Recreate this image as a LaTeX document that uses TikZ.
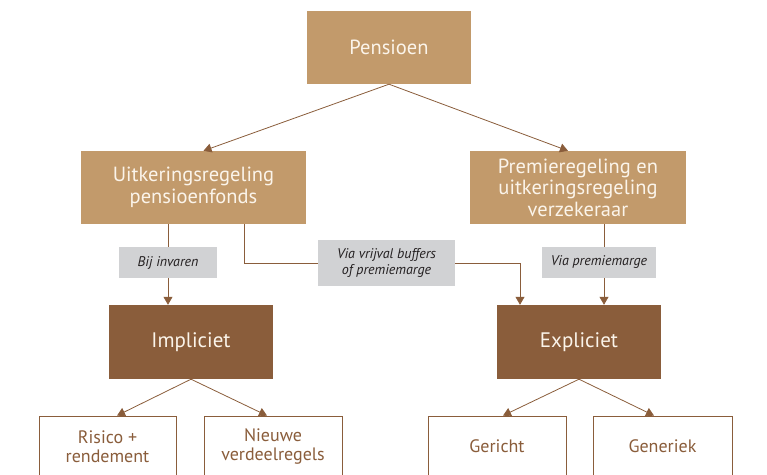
\documentclass[tikz,border=0pt]{standalone}
\usepackage{fontspec}
\setmainfont{PT Sans}
\usepackage{tikz}
\usetikzlibrary{arrows.meta, positioning, calc}
\definecolor{tan}{HTML}{C29A6B}
\definecolor{bark}{HTML}{8A5D3B}
\definecolor{greylbl}{HTML}{D1D2D4}
\definecolor{cream}{HTML}{FBF4EA}
\definecolor{ink}{HTML}{231F20}

\begin{document}
\begin{tikzpicture}[
  x=1pt, y=-1pt,
  upper/.style={fill=tan, text=cream, inner sep=0pt, minimum height=73pt,
                font=\fontsize{20.5}{21.5}\selectfont, align=center},
  lower/.style={fill=bark, text=cream, inner sep=0pt, minimum width=164pt,
                minimum height=74pt, font=\fontsize{21}{22}\selectfont, align=center},
  leaf/.style={draw=bark, line width=0.8pt, fill=white, text=bark, inner sep=0pt,
               minimum height=61pt, font=\fontsize{18}{19.5}\selectfont, align=center},
  tag/.style={fill=greylbl, text=ink, inner sep=0pt, minimum height=31pt,
              font=\fontsize{14}{16}\selectfont\itshape, align=center},
  arr/.style={-{Triangle[length=8pt, width=9pt]}, color=bark, line width=0.8pt},
  lnk/.style={color=bark, line width=0.8pt}
]
  \useasboundingbox (0,0) rectangle (767,474);

  % Top
  \node[upper, minimum width=164pt] (pens) at (389,47.5) {Pensioen};

  % Second row
  \node[upper, minimum width=225pt] (uitk) at (193.5,187.5)
    {Uitkeringsregeling\\pensioenfonds};
  \node[upper, minimum width=216pt] (prem) at (578,187.5)
    {Premieregeling en\\uitkeringsregeling\\verzekeraar};

  % Labels
  \node[tag, minimum width=98pt] (invaren) at (168,262.5) {Bij invaren};
  \node[tag, minimum width=137pt, minimum height=46pt] (vrijval) at (386.5,263)
    {Via vrijval buffers\\of premiemarge};
  \node[tag, minimum width=114pt] (marge) at (599,262.5) {Via premiemarge};

  % Third row
  \node[lower] (impl) at (191,342) {Impliciet};
  \node[lower] (expl) at (579,342) {Expliciet};

  % Leaves
  \node[leaf, minimum width=137pt] (risico) at (107.5,446.5) {Risico +\\rendement};
  \node[leaf, minimum width=138pt] (regels) at (273,446.5) {Nieuwe\\verdeelregels};
  \node[leaf, minimum width=138pt] (gericht) at (497,446.5) {Gericht};
  \node[leaf, minimum width=139pt] (generiek) at (662.5,446.5) {Generiek};

  % Arrows
  \draw[arr] (pens.south) -- ([xshift=10pt]uitk.north);
  \draw[arr] (pens.south) -- ([xshift=-10pt]prem.north);

  \draw[lnk] (uitk.south -| invaren) -- (invaren.north);
  \draw[arr] (invaren.south) -- (impl.north -| invaren);

  \draw[lnk] ([xshift=50.5pt]uitk.south) |- (vrijval.west);
  \draw[arr] (vrijval.east) -| ([xshift=-59pt]expl.north);

  \draw[lnk] ([xshift=26pt]prem.south) -- ([xshift=26pt]prem.south |- marge.north);
  \draw[arr] ([xshift=26pt]prem.south |- marge.south) -- ([xshift=25pt]expl.north);

  \draw[arr] (impl.south) -- ([xshift=9.5pt]risico.north);
  \draw[arr] (impl.south) -- ([xshift=-6pt]regels.north);
  \draw[arr] (expl.south) -- ([xshift=6pt]gericht.north);
  \draw[arr] (expl.south) -- ([xshift=-8.5pt]generiek.north);
\end{tikzpicture}
\end{document}
